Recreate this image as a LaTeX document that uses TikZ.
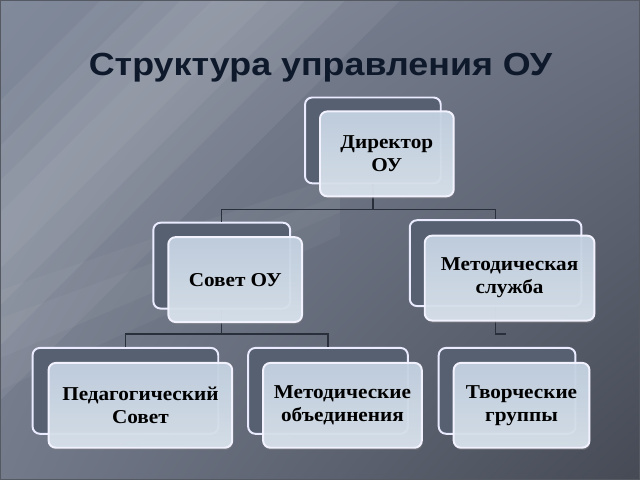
\documentclass[tikz,border=0pt]{standalone}
\usepackage{fontspec}
\setmainfont{Liberation Serif}
\newfontfamily\titlefont[FakeStretch=1.12]{Liberation Sans}
\newfontfamily\boxfont[FakeStretch=1.08]{Liberation Serif}
\usetikzlibrary{shapes, shadows, shadings}
\definecolor{bgul}{HTML}{818A9B}
\definecolor{bgur}{HTML}{6B7181}
\definecolor{bgll}{HTML}{737A8A}
\definecolor{bgdark}{HTML}{454A55}
\definecolor{boxback}{HTML}{566070}
\definecolor{boxtop}{HTML}{C6D4E4}
\definecolor{boxbot}{HTML}{DCE6F0}
\definecolor{lineclr}{HTML}{2A303B}
\definecolor{titleclr}{HTML}{0E1A2C}
\tikzstyle{back} = [rectangle, draw=white!92!blue, line width=1.4pt, fill=boxback,
    rounded corners=0.18cm, minimum height=2.15cm]
\tikzstyle{front} = [rectangle, draw=white!95!blue, line width=1.4pt, top color=boxtop,
    bottom color=boxbot, fill opacity=0.92, text opacity=1, rounded corners=0.18cm,
    minimum height=2.125cm, align=center, font=\boxfont\bfseries\fontsize{14}{16.4}\selectfont,
    drop shadow={shadow xshift=0.6pt, shadow yshift=-1.6pt, opacity=0.45}]
\tikzstyle{line} = [draw=lineclr, line width=0.9pt]

\begin{document}
\begin{tikzpicture}[x=0.025cm, y=-0.025cm]
% background
\shade[upper left=bgul, upper right=bgur, lower left=bgll, lower right=bgdark]
  (0,0) rectangle (640,480);
\fill[white, opacity=0.06] (0,100) -- (0,400) -- (400,0) -- (100,0) -- cycle;
\fill[white, opacity=0.06] (0,145) -- (0,345) -- (345,0) -- (145,0) -- cycle;
\fill[white, opacity=0.06] (0,180) -- (0,305) -- (305,0) -- (180,0) -- cycle;
\fill[white, opacity=0.05] (0,212) -- (0,268) -- (268,0) -- (212,0) -- cycle;
\fill[white, opacity=0.04] (0,290) -- (0,390) -- (340,235) -- (340,175) -- cycle;
\fill[white, opacity=0.04] (0,318) -- (0,358) -- (340,212) -- (340,195) -- cycle;
\draw[lineclr!80, line width=1pt] (0,0) rectangle (640,480);
\useasboundingbox (0,0) rectangle (640,480);

\node[font=\titlefont\bfseries\fontsize{22.8}{26}\selectfont, text=titleclr, anchor=base]
  (title) at (320.5,75) {Структура управления ОУ};

% back boxes
\node[back, minimum width=3.4cm] (dir_back) at (373,140) {};
\node[back, minimum width=3.425cm] (sov_back) at (221.5,265.5) {};
\node[back, minimum width=4.3cm] (sl_back) at (496,263) {};
\node[back, minimum width=4.65cm] (ped_back) at (125,391) {};
\node[back, minimum width=4cm] (mo_back) at (328,391) {};
\node[back, minimum width=3.425cm] (tv_back) at (507.5,391) {};

% connectors
\coordinate (j_dir) at (373,209);
\coordinate (j_sov) at (221.5,334);
\coordinate (j_sl) at (496,334);
\coordinate (j_sl_end) at (506,334);
\path [line] (dir_back.south) -- (j_dir) -| (sov_back.north);
\path [line] (j_dir) -| (sl_back.north);
\path [line] (sov_back.south) -- (j_sov) -| (ped_back.north);
\path [line] (j_sov) -| (mo_back.north);
\path [line] (sl_back.south) -- (j_sl) -- (j_sl_end);

% front boxes
\node[front, minimum width=3.35cm] (dir) at (387,153.5) {Директор\\ОУ};
\node[front, minimum width=3.35cm] (sov) at (235,279.5) {Совет ОУ};
\node[front, minimum width=4.25cm] (sl) at (510,278) {Методическая\\служба};
\node[front, minimum width=4.6cm] (ped) at (140,405.5) {Педагогический\\Совет};
\node[front, minimum width=3.975cm] (mo) at (342.5,405.5) {Методические\\объединения};
\node[front, minimum width=3.4cm] (tv) at (522,405.5) {Творческие\\группы};
\end{tikzpicture}
\end{document}
